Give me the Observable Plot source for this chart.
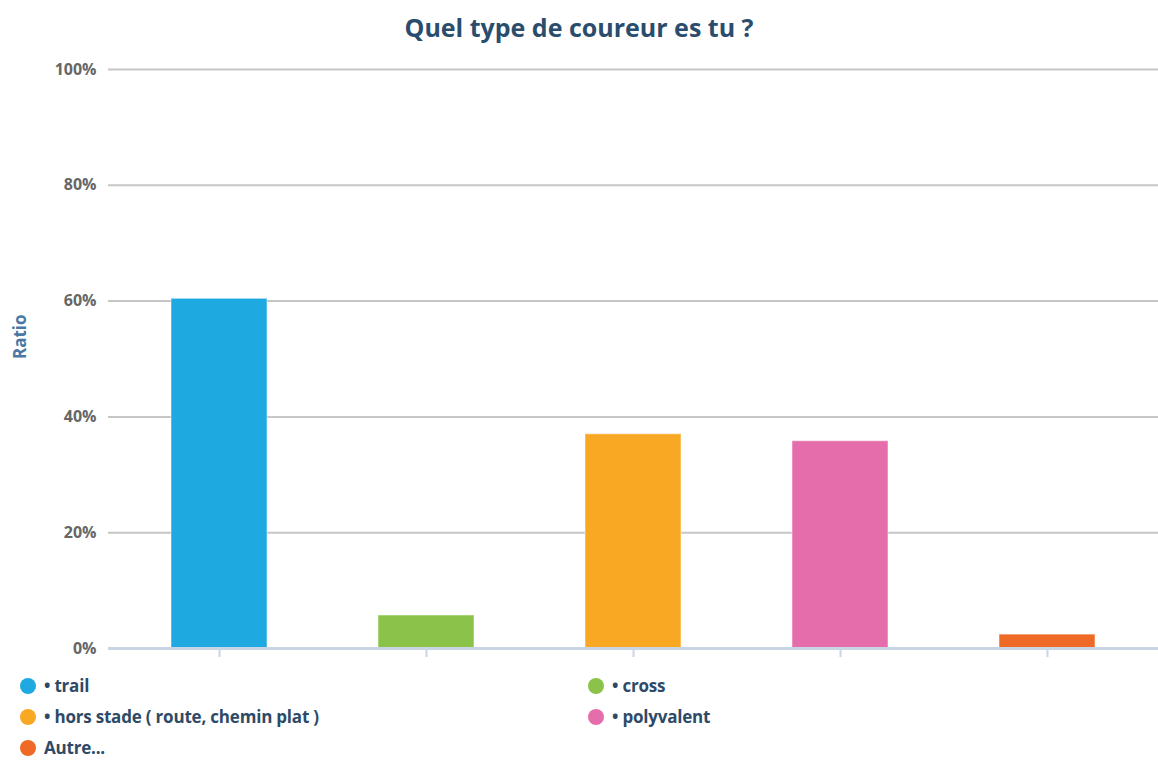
<!DOCTYPE html>
<html>
<head>
<meta charset="utf-8">
<script src="https://cdn.jsdelivr.net/npm/d3@7"></script>
<script src="https://cdn.jsdelivr.net/npm/@observablehq/plot@0.6"></script>
<style>
  html, body { margin: 0; padding: 0; background: #fff; }
  body { width: 1158px; height: 760px; overflow: hidden; font-family: "Open Sans", sans-serif; }
  #title { height: 50px; line-height: 54px; text-align: center; font-size: 25px; font-weight: 700; color: #2a4d6e; letter-spacing: 0px; }
  #chart svg { display: block; }
  #legend { position: relative; height: 90px; }
  .item { position: absolute; display: flex; align-items: center; height: 24px; line-height: 24px; font-size: 17px; font-weight: 700; color: #2e4a66; letter-spacing: -0.2px; }
  .dot { width: 16px; height: 16px; border-radius: 50%; margin-right: 8px; }
</style>
</head>
<body>
<div id="title">Quel type de coureur es tu ?</div>
<div id="chart"></div>
<div id="legend"></div>
<script>
// Réponses au sondage « Quel type de coureur es tu ? » (en %)
const categories = ["trail", "cross", "hors stade ( route, chemin plat )", "polyvalent", "Autre..."];
const legendLabels = ["• trail", "• cross", "• hors stade ( route, chemin plat )", "• polyvalent", "Autre..."];
const values = [60.4, 5.7, 37.0, 35.8, 2.4];
const colors = ["#1fa9e1", "#8bc34a", "#f9a824", "#e66dab", "#ef6a26"];
const yTicks = [0, 20, 40, 60, 80, 100];

const data = categories.map((c, i) => ({category: c, value: values[i]}));

const chart = Plot.plot({
  width: 1158,
  height: 620,
  marginTop: 19,
  marginBottom: 22,
  marginLeft: 108,
  marginRight: 0,
  style: {fontFamily: "Open Sans, sans-serif"},
  x: {domain: categories, range: [115.5, 1150.5], paddingInner: 0.536, paddingOuter: 0.268},
  y: {domain: [0, 100]},
  color: {domain: categories, range: colors},
  marks: [
    Plot.ruleY(yTicks.filter(d => d > 0), {stroke: "#c6c6c6", strokeWidth: 2}),
    Plot.barY(data, {x: "category", y: "value", fill: "category", stroke: "#ffffff", strokeOpacity: 0.5, strokeWidth: 1}),
    Plot.ruleY([0], {stroke: "#c7d5e4", strokeWidth: 3}),
    Plot.axisX({tickSize: 9, tickFormat: () => "", stroke: "#c7d5e4", strokeWidth: 2, label: null}),
    Plot.axisY({
      ticks: yTicks, tickSize: 0, tickPadding: 12,
      tickFormat: d => d + "%", fontSize: 16, fontWeight: 700, fill: "#666666", label: null
    }),
    Plot.text(["Ratio"], {
      frameAnchor: "left", dx: -88, rotate: -90,
      fontSize: 17, fontWeight: 700, fill: "#4a78a6"
    })
  ]
});
document.getElementById("chart").appendChild(chart);

// Légende en deux colonnes
const legend = document.getElementById("legend");
const cols = [20, 588];
legendLabels.forEach((label, i) => {
  const item = document.createElement("div");
  item.className = "item";
  item.style.left = cols[i % 2] + "px";
  item.style.top = (4 + Math.floor(i / 2) * 31) + "px";
  const dot = document.createElement("span");
  dot.className = "dot";
  dot.style.background = colors[i];
  const txt = document.createElement("span");
  txt.textContent = label;
  item.appendChild(dot);
  item.appendChild(txt);
  legend.appendChild(item);
});
</script>
</body>
</html>
